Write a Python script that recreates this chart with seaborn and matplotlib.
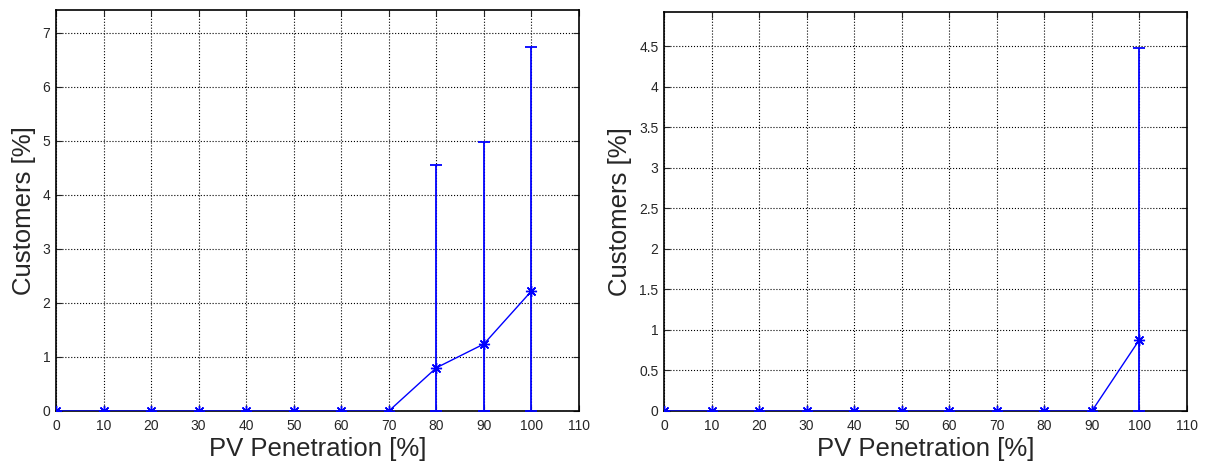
import numpy as np
import pandas as pd
import matplotlib
matplotlib.use("Agg")
import matplotlib.pyplot as plt
import seaborn as sns

# PV penetration levels
pv = [0, 10, 20, 30, 40, 50, 60, 70, 80, 90, 100]

# left panel: mean share of customers and upper end of error bar
left_mean = [0, 0, 0, 0, 0, 0, 0, 0, 0.80, 1.24, 2.22]
left_upper = [0, 0, 0, 0, 0, 0, 0, 0, 4.55, 4.98, 6.73]

# right panel
right_mean = [0, 0, 0, 0, 0, 0, 0, 0, 0, 0, 0.88]
right_upper = [0, 0, 0, 0, 0, 0, 0, 0, 0, 0, 4.47]

x_ticks = list(range(0, 111, 10))
left_yticks = [0, 1, 2, 3, 4, 5, 6, 7]
right_yticks = [0, 0.5, 1, 1.5, 2, 2.5, 3, 3.5, 4, 4.5]
right_yticklabels = ["0", "0.5", "1", "1.5", "2", "2.5", "3", "3.5", "4", "4.5"]

sns.set_style("white")
plt.rcParams["font.family"] = ["Liberation Sans", "DejaVu Sans"]

fig = plt.figure(figsize=(12.07, 4.66), dpi=100)
ax1 = fig.add_axes([56 / 1207, 1 - 411 / 466, 523 / 1207, 401 / 466])
ax2 = fig.add_axes([664 / 1207, 1 - 411 / 466, 523 / 1207, 399 / 466])

# matlab style asterisk
asterisk = (8, 2, 0)


def draw(ax, mean, upper, ymax, yticks, yticklabels=None):
    df = pd.DataFrame({"pv": pv, "val": mean})
    err_hi = np.array(upper) - np.array(mean)
    err_lo = np.array(mean)
    mask = np.array(upper) > 0
    ax.errorbar(np.array(pv)[mask], np.array(mean)[mask],
                yerr=[err_lo[mask], err_hi[mask]], fmt="none",
                ecolor="#0000ff", elinewidth=1.3, capsize=4, capthick=1.3,
                zorder=3)
    sns.lineplot(data=df, x="pv", y="val", ax=ax, color="#0000ff",
                 marker=asterisk, markersize=8, markeredgecolor="#0000ff",
                 markeredgewidth=1.0, linewidth=1, zorder=4)
    ax.set_xlim(0, 110)
    ax.set_ylim(0, ymax)
    ax.set_xticks(x_ticks)
    ax.set_yticks(yticks)
    if yticklabels is not None:
        ax.set_yticklabels(yticklabels)
    ax.grid(True, color="black", linestyle=":", linewidth=0.8)
    ax.tick_params(direction="in", length=4, labelsize=10, pad=4,
                   top=True, right=True, bottom=True, left=True)
    ax.tick_params(axis="x", pad=6)
    for s in ax.spines.values():
        s.set_color("black")
        s.set_linewidth(1.2)
    ax.set_xlabel("PV Penetration [%]", fontsize=18.5, labelpad=3)
    ax.set_ylabel("Customers [%]", fontsize=18.5, labelpad=5)


draw(ax1, left_mean, left_upper, 7.42, left_yticks)
draw(ax2, right_mean, right_upper, 4.92, right_yticks, right_yticklabels)

fig.savefig("out.png", dpi=100)
